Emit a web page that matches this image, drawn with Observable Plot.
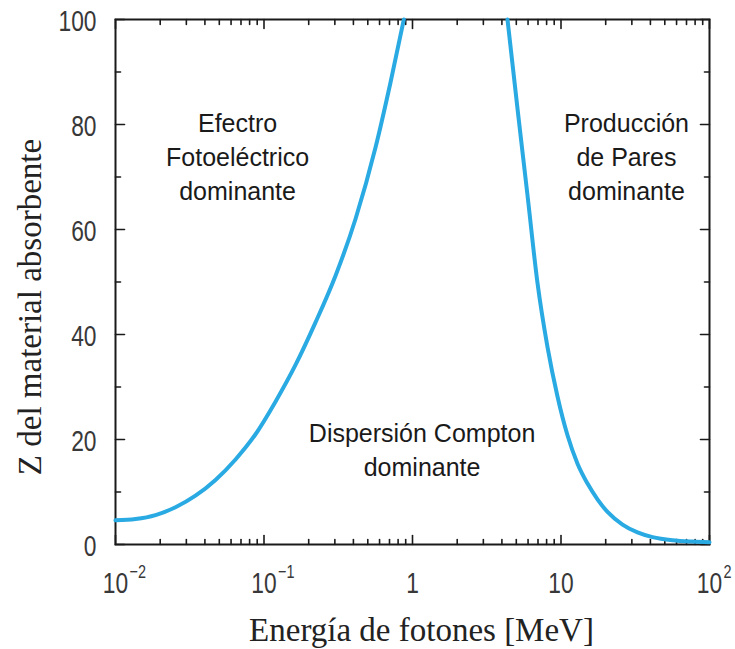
<!DOCTYPE html>
<html>
<head>
<meta charset="utf-8">
<script src="https://cdn.jsdelivr.net/npm/d3@7"></script>
<script src="https://cdn.jsdelivr.net/npm/@observablehq/plot@0.6"></script>
<style>
  html, body { margin: 0; padding: 0; background: #fff; }
  #chart svg { display: block; }
</style>
</head>
<body>
<div id="chart"></div>
<script>
// ---- data ----
// Photoelectric / Compton boundary
const leftEnergy = [0.01, 0.01364, 0.0186, 0.02536, 0.03457, 0.04715, 0.0643, 0.0877, 0.1195, 0.163, 0.2223, 0.3031, 0.4133, 0.5634, 0.711, 0.874];
const leftZ      = [4.6,  4.85,    5.6,    7.1,     9.3,     12.3,    16.2,   21.0,   27.2,   34.2,  42.3,   51.2,   62.0,   75.6,   88.0,  100];
// Compton / pair-production boundary
const rightEnergy = [4.362, 5.095, 5.95, 6.946, 8.112, 9.472, 11.06, 12.92, 15.09, 17.61, 20.57, 25.96, 32.75, 41.33, 56.34, 76.82, 100];
const rightZ      = [100,   83.0,  66.5, 49.8,  37.6,  28.2,  20.8,  15.4,  11.6,  8.6,   6.2,   3.8,   2.3,   1.4,   0.8,   0.55,  0.45];

// Region annotations
const annotLabels = ["Efectro\nFotoeléctrico\ndominante", "Dispersión Compton\ndominante", "Producción\nde Pares\ndominante"];
const annotEnergy = [0.0664, 1.16, 27.6];
const annotZ      = [65.7, 13.1, 65.7];

// Axis ticks
const yMajor = [0, 20, 40, 60, 80, 100];
const yMinor = [10, 30, 50, 70, 90];
const xMajor = [0.01, 0.1, 1, 10, 100];
const xMinorFactors = [2, 3, 4, 5, 6, 7, 8, 9];
const xTickBase = ["10", "10", "1", "10", "10"];
const xTickExp  = ["\u22122", "\u22121", "", "", "2"];

const xLabel = "Energía de fotones [MeV]";
const yLabel = "Z del material absorbente";

// ---- build tables ----
const leftCurve = leftEnergy.map((e, i) => ({e, z: leftZ[i]}));
const rightCurve = rightEnergy.map((e, i) => ({e, z: rightZ[i]}));
const annots = annotLabels.map((t, i) => ({t, e: annotEnergy[i], z: annotZ[i]}));
const xMinor = xMajor.slice(0, -1).flatMap(d => xMinorFactors.map(f => d * f));
const xTicks = xMajor.map((v, i) => ({v, base: xTickBase[i], exp: xTickExp[i]}));

const tickShape = {draw(ctx, l) { ctx.moveTo(0, 0); ctx.lineTo(0, -l); }};
const tickStyle = {stroke: "#1a1a1a", strokeWidth: 1.6, anchor: "start", shape: tickShape};

const sans = "'Liberation Sans', Arial, sans-serif";
const serif = "'Liberation Serif', 'Times New Roman', serif";
const curveColor = "#2aaae3";

const chart = Plot.plot({
  width: 735,
  height: 649,
  marginLeft: 115,
  marginRight: 26,
  marginTop: 19,
  marginBottom: 105,
  style: {background: "#fff"},
  x: {type: "log", domain: [0.01, 100], axis: null},
  y: {domain: [0, 100], axis: null},
  marks: [
    // tick labels (condensed afterwards)
    Plot.text(yMajor, {x: 0.01, y: d => d, text: d => String(d), textAnchor: "end", lineAnchor: "middle",
      dx: -19, dy: 2, fontSize: 30, fontFamily: sans, fill: "#383838"}),
    Plot.text(xTicks, {x: "v", y: 0, text: "base", textAnchor: "middle", lineAnchor: "bottom",
      dy: 48, fontSize: 30, fontFamily: sans, fill: "#383838"}),
    Plot.text(xTicks, {x: "v", y: 0, text: "exp", textAnchor: "start", lineAnchor: "bottom",
      dx: 14, dy: 33, fontSize: 19, fontFamily: sans, fill: "#383838"}),
    // tick marks, pointing inward on all four sides
    Plot.vector(xMajor, {x: d => d, y: 0, length: 9, rotate: 0, ...tickStyle}),
    Plot.vector(xMinor, {x: d => d, y: 0, length: 5, rotate: 0, ...tickStyle}),
    Plot.vector(xMajor, {x: d => d, y: 100, length: 9, rotate: 180, ...tickStyle}),
    Plot.vector(xMinor, {x: d => d, y: 100, length: 5, rotate: 180, ...tickStyle}),
    Plot.vector(yMajor, {x: 0.01, y: d => d, length: 9, rotate: 90, ...tickStyle}),
    Plot.vector(yMinor, {x: 0.01, y: d => d, length: 5, rotate: 90, ...tickStyle}),
    Plot.vector(yMajor, {x: 100, y: d => d, length: 9, rotate: -90, ...tickStyle}),
    Plot.vector(yMinor, {x: 100, y: d => d, length: 5, rotate: -90, ...tickStyle}),
    Plot.frame({stroke: "#1a1a1a", strokeWidth: 2}),
    // curves
    Plot.line(leftCurve, {x: "e", y: "z", stroke: curveColor, strokeWidth: 4, curve: "monotone-x"}),
    Plot.line(rightCurve, {x: "e", y: "z", stroke: curveColor, strokeWidth: 4, curve: "monotone-x"}),
    // region annotations
    Plot.text(annots, {x: "e", y: "z", text: "t", textAnchor: "middle", lineAnchor: "bottom",
      lineHeight: 1.36, fontSize: 25, fontFamily: sans, fill: "#1a1a1a"}),
    // axis titles
    Plot.text([xLabel], {frameAnchor: "bottom", text: d => d, textAnchor: "middle", lineAnchor: "bottom", dx: 9, dy: 96,
      fontSize: 33, fontFamily: serif, fill: "#222"}),
    Plot.text([yLabel], {frameAnchor: "left", text: d => d, rotate: -90, textAnchor: "middle", lineAnchor: "bottom", dx: -75, dy: 25,
      fontSize: 33, fontFamily: serif, fill: "#222"})
  ]
});

// condense the tick-label glyphs (the reference uses a narrow face)
const textGroups = chart.querySelectorAll('g[aria-label="text"]');
for (let k = 0; k < 3 && k < textGroups.length; ++k) {
  textGroups[k].querySelectorAll("text").forEach(t => {
    t.setAttribute("transform", (t.getAttribute("transform") || "") + " scale(0.76,1)");
  });
}
document.getElementById("chart").append(chart);
</script>
</body>
</html>
